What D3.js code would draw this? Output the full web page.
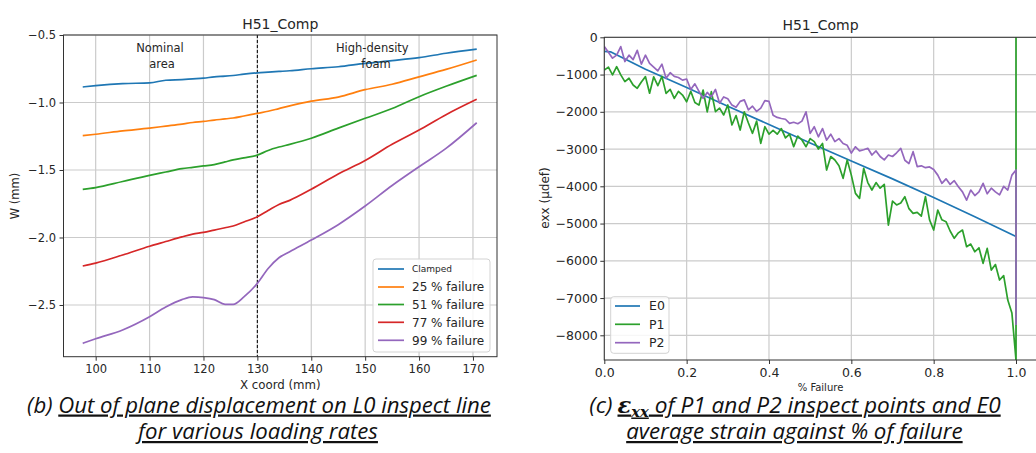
<!DOCTYPE html>
<html><head><meta charset="utf-8">
<script src="https://cdn.jsdelivr.net/npm/d3@7"></script>
<style>
body{margin:0;background:#fff;}
svg{display:block;}
.tick text{fill:#262626;}
</style></head><body>
<svg id="chart" width="1036" height="453"></svg>
<script>
// ---------- Left chart data (out-of-plane displacement) ----------
const xCoord = [97.6, 100, 105, 110, 113, 116, 118, 120, 122, 124, 125.5, 127.5, 130, 132, 134, 136, 140, 145, 150, 155, 160, 165, 170.7];
const clamped = [-0.885, -0.875, -0.86, -0.855, -0.835, -0.83, -0.825, -0.82, -0.81, -0.805, -0.80, -0.79, -0.78, -0.775, -0.77, -0.765, -0.75, -0.735, -0.71, -0.69, -0.668, -0.635, -0.605];
const fail25 = [-1.245, -1.235, -1.21, -1.19, -1.175, -1.16, -1.148, -1.14, -1.13, -1.122, -1.115, -1.10, -1.08, -1.065, -1.045, -1.025, -0.99, -0.96, -0.905, -0.865, -0.81, -0.755, -0.685];
const fail51 = [-1.643, -1.63, -1.585, -1.54, -1.515, -1.49, -1.48, -1.47, -1.46, -1.44, -1.425, -1.41, -1.39, -1.355, -1.33, -1.31, -1.265, -1.19, -1.117, -1.045, -0.957, -0.88, -0.799];
const fail77 = [-2.211, -2.19, -2.13, -2.065, -2.03, -1.995, -1.975, -1.962, -1.945, -1.928, -1.915, -1.885, -1.846, -1.80, -1.755, -1.725, -1.643, -1.53, -1.43, -1.31, -1.204, -1.09, -0.976];
const fail99 = [-2.784, -2.75, -2.685, -2.587, -2.515, -2.46, -2.44, -2.445, -2.46, -2.495, -2.495, -2.44, -2.34, -2.23, -2.15, -2.105, -2.019, -1.905, -1.767, -1.615, -1.476, -1.34, -1.15];
const leftNames = ["Clamped", "25 % failure", "51 % failure", "77 % failure", "99 % failure"];
const leftXTicks = [100, 110, 120, 130, 140, 150, 160, 170];
const leftYTicks = [-0.5, -1.0, -1.5, -2.0, -2.5];
const dividerX = 130;

// ---------- Right chart data (strain vs % failure) ----------
const e0Pct  = [0, 0.015, 0.1, 0.2, 0.3, 0.4, 0.5, 0.6, 0.7, 0.8, 0.9, 1.0];
const e0Vals = [-380, -390, -860, -1350, -1850, -2340, -2840, -3320, -3800, -4300, -4820, -5350];
const p1Vals = [-880,-800,-1010,-790,-1010,-1190,-1100,-1280,-1370,-1200,
  -1056,-1500,-1060,-1300,-1050,-1505,-1400,-1640,-1450,-1550,
  -1730,-1450,-1750,-1820,-1415,-2000,-1460,-1997,-1900,-2085,
  -1817,-2354,-2100,-2489,-2000,-2300,-2578,-2250,-2846,-2400,
  -2600,-2500,-2600,-2450,-2700,-2600,-2935,-2650,-2757,-2937,
  -2720,-2800,-3000,-2850,-3563,-3200,-3294,-3450,-3786,-3294,
  -3700,-4190,-4323,-3517,-3900,-4100,-3900,-4050,-3950,-5040,
  -4400,-4500,-4450,-4279,-4600,-4726,-4700,-4800,-4279,-4900,
  -5174,-4637,-4900,-4950,-5200,-5397,-5250,-5174,-5622,-5550,
  -5757,-5650,-6068,-5666,-6248,-6100,-6516,-6400,-7054,-7400,-8665];
const p1TailPct = [1.0, 1.0];
const p1TailVals = [-9500, 300];
const p2Vals = [-250,-400,-560,-480,-250,-650,-480,-600,-350,-720,
  -480,-700,-800,-900,-720,-1100,-950,-1050,-1080,-1150,
  -1120,-1400,-1250,-1450,-1640,-1480,-1600,-1400,-1770,-1600,
  -1650,-1820,-1880,-1720,-1680,-1950,-1850,-1990,-1900,-1700,
  -1720,-2090,-2150,-2180,-2200,-2310,-2280,-2320,-2250,-2000,
  -2580,-2400,-2670,-2450,-2760,-2600,-2800,-2720,-2850,-2900,
  -3110,-2940,-3050,-3020,-2980,-3160,-3050,-3200,-3290,-3160,
  -3200,-3100,-2980,-3300,-3390,-3070,-3470,-3450,-3500,-3480,
  -3550,-3700,-3920,-3800,-3950,-3850,-4010,-4150,-4370,-4100,
  -4250,-4150,-3920,-4200,-4050,-4150,-4230,-4000,-4100,-3700,-3560];
const p2TailPct = [1.0];
const p2TailVals = [-7725];
const rightNames = ["E0", "P1", "P2"];
const rightXTicks = [0, 0.2, 0.4, 0.6, 0.8, 1.0];
const rightYTicks = [0, -1000, -2000, -3000, -4000, -5000, -6000, -7000, -8000];

const C = {blue:"#1f77b4", orange:"#ff7f0e", green:"#2ca02c", red:"#d62728", purple:"#9467bd"};
const FONT = "'DejaVu Sans', sans-serif";
const svg = d3.select("#chart");
svg.append("rect").attr("width",1036).attr("height",453).attr("fill","#fff");

function styleAxis(g, fs){
  g.select(".domain").remove();
  g.selectAll(".tick line").attr("stroke","#333").attr("stroke-width",1);
  g.selectAll(".tick text").attr("font-family",FONT).attr("font-size",fs).attr("fill","#262626");
}

// ================= LEFT CHART =================
const L = {left:63.5, right:497, top:35, bottom:356.7};
const xL = d3.scaleLinear().domain([94.03, 174.46]).range([L.left, L.right]);
const yL = d3.scaleLinear().domain([-2.883, -0.5]).range([L.bottom, L.top]);
const gL = svg.append("g");
gL.append("clipPath").attr("id","clipL").append("rect")
  .attr("x",L.left).attr("y",L.top).attr("width",L.right-L.left).attr("height",L.bottom-L.top);
const gridL = gL.append("g").attr("stroke","#cbcbcb").attr("stroke-width",1.2);
leftXTicks.forEach(t=>gridL.append("line").attr("x1",xL(t)).attr("x2",xL(t)).attr("y1",L.top).attr("y2",L.bottom));
leftYTicks.forEach(t=>gridL.append("line").attr("x1",L.left).attr("x2",L.right).attr("y1",yL(t)).attr("y2",yL(t)));

gL.append("line").attr("x1",xL(dividerX)).attr("x2",xL(dividerX)).attr("y1",L.top).attr("y2",L.bottom)
  .attr("stroke","#111").attr("stroke-width",1.1).attr("stroke-dasharray","3,2");

const leftSeries = [clamped, fail25, fail51, fail77, fail99];
const leftColors = [C.blue, C.orange, C.green, C.red, C.purple];
const lineL = d3.line().x(d=>xL(d[0])).y(d=>yL(d[1])).curve(d3.curveMonotoneX);
const plotL = gL.append("g").attr("clip-path","url(#clipL)");
leftSeries.forEach((s,i)=>{
  plotL.append("path").attr("d", lineL(xCoord.map((x,j)=>[x,s[j]])))
    .attr("fill","none").attr("stroke",leftColors[i]).attr("stroke-width",1.7);
});

// annotations
const ann = gL.append("g").attr("font-family",FONT).attr("font-size",11.5).attr("fill","#262626").attr("text-anchor","middle");
ann.append("text").attr("x",160).attr("y",51.7).text("Nominal");
ann.append("text").attr("x",162).attr("y",68).text("area");
ann.append("text").attr("x",372.3).attr("y",51.5).text("High-density");
ann.append("text").attr("x",376).attr("y",68).text("foam");

const axLB = gL.append("g").attr("transform",`translate(0,${L.bottom})`)
  .call(d3.axisBottom(xL).tickValues(leftXTicks).tickSize(4).tickPadding(4).tickFormat(d3.format("d")));
styleAxis(axLB, 11.5);
const axLL = gL.append("g").attr("transform",`translate(${L.left},0)`)
  .call(d3.axisLeft(yL).tickValues(leftYTicks).tickSize(4).tickPadding(3.5).tickFormat(d3.format(".1f")));
styleAxis(axLL, 11.5);
gL.append("rect").attr("x",L.left).attr("y",L.top).attr("width",L.right-L.left).attr("height",L.bottom-L.top)
  .attr("fill","none").attr("stroke","#333").attr("stroke-width",1);

gL.append("text").attr("x",280.3).attr("y",28.5).attr("text-anchor","middle").attr("font-family",FONT)
  .attr("font-size",14).attr("fill","#262626").text("H51_Comp");
gL.append("text").attr("x",280.3).attr("y",385.3).attr("dy","0.35em").attr("text-anchor","middle").attr("font-family",FONT)
  .attr("font-size",11.8).attr("fill","#262626").text("X coord (mm)");
gL.append("text").attr("transform","translate(15,196) rotate(-90)").attr("dy","0.35em").attr("text-anchor","middle")
  .attr("font-family",FONT).attr("font-size",11.5).attr("fill","#262626").text("W (mm)");

// legend left
const legL = gL.append("g");
legL.append("rect").attr("x",373).attr("y",259).attr("width",117).attr("height",93).attr("rx",3)
  .attr("fill","#fff").attr("fill-opacity",0.85).attr("stroke","#d3d3d3").attr("stroke-width",1);
const legLY = [269, 287, 304.5, 322.3, 340.3];
leftNames.forEach((n,i)=>{
  legL.append("line").attr("x1",378).attr("x2",404).attr("y1",legLY[i]).attr("y2",legLY[i])
    .attr("stroke",leftColors[i]).attr("stroke-width",1.7);
  legL.append("text").attr("x",412).attr("y",legLY[i]).attr("dy","0.35em").attr("font-family",FONT)
    .attr("font-size", i===0 ? 9 : 12).attr("fill","#262626").text(n);
});

// ================= RIGHT CHART =================
const R = {left:604.3, right:1036.6, top:37.3, bottom:360};
const xR = d3.scaleLinear().domain([0, 1.05]).range([R.left, R.right]);
const yR = d3.scaleLinear().domain([-8663, 0]).range([R.bottom, R.top]);
const gR = svg.append("g");
gR.append("clipPath").attr("id","clipR").append("rect")
  .attr("x",R.left).attr("y",R.top).attr("width",R.right-R.left).attr("height",R.bottom-R.top);
const gridR = gR.append("g").attr("stroke","#cbcbcb").attr("stroke-width",1.2);
rightXTicks.forEach(t=>gridR.append("line").attr("x1",xR(t)).attr("x2",xR(t)).attr("y1",R.top).attr("y2",R.bottom));
rightYTicks.forEach(t=>gridR.append("line").attr("x1",R.left).attr("x2",R.right).attr("y1",yR(t)).attr("y2",yR(t)));

const pct = d3.range(p1Vals.length).map(i=>i/100);
const lineR = d3.line().x(d=>xR(d[0])).y(d=>yR(d[1]));
const plotR = gR.append("g").attr("clip-path","url(#clipR)");
const e0Data = e0Pct.map((p,i)=>[p,e0Vals[i]]);
const p1Data = pct.map((p,i)=>[p,p1Vals[i]]).concat(p1TailPct.map((p,i)=>[p,p1TailVals[i]]));
const p2Data = pct.map((p,i)=>[p,p2Vals[i]]).concat(p2TailPct.map((p,i)=>[p,p2TailVals[i]]));
const rightColors = [C.blue, C.green, C.purple];
[e0Data, p1Data, p2Data].forEach((d,i)=>{
  plotR.append("path").attr("d",lineR(d)).attr("fill","none").attr("stroke",rightColors[i])
    .attr("stroke-width",1.7).attr("stroke-linejoin","round");
});

const axRB = gR.append("g").attr("transform",`translate(0,${R.bottom})`)
  .call(d3.axisBottom(xR).tickValues(rightXTicks).tickSize(4).tickPadding(4).tickFormat(d3.format(".1f")));
styleAxis(axRB, 12.5);
const axRL = gR.append("g").attr("transform",`translate(${R.left},0)`)
  .call(d3.axisLeft(yR).tickValues(rightYTicks).tickSize(4).tickPadding(2.5).tickFormat(d3.format("d")));
styleAxis(axRL, 12.5);
gR.append("rect").attr("x",R.left).attr("y",R.top).attr("width",R.right-R.left).attr("height",R.bottom-R.top)
  .attr("fill","none").attr("stroke","#333").attr("stroke-width",1);

gR.append("text").attr("x",820.5).attr("y",30).attr("text-anchor","middle").attr("font-family",FONT)
  .attr("font-size",14).attr("fill","#262626").text("H51_Comp");
gR.append("text").attr("x",820.5).attr("y",387.5).attr("dy","0.35em").attr("text-anchor","middle").attr("font-family",FONT)
  .attr("font-size",10).attr("fill","#262626").text("% Failure");
gR.append("text").attr("transform","translate(545,198) rotate(-90)").attr("dy","0.35em").attr("text-anchor","middle")
  .attr("font-family",FONT).attr("font-size",12).attr("fill","#262626").text("exx (µdef)");

const legR = gR.append("g");
legR.append("rect").attr("x",610.7).attr("y",296.7).attr("width",58.3).attr("height",56.6).attr("rx",3)
  .attr("fill","#fff").attr("fill-opacity",0.85).attr("stroke","#d3d3d3").attr("stroke-width",1);
const legRY = [306, 324.3, 342.7];
rightNames.forEach((n,i)=>{
  legR.append("line").attr("x1",615).attr("x2",640).attr("y1",legRY[i]).attr("y2",legRY[i])
    .attr("stroke",rightColors[i]).attr("stroke-width",1.7);
  legR.append("text").attr("x",649).attr("y",legRY[i]).attr("dy","0.35em").attr("font-family",FONT)
    .attr("font-size",12.5).attr("fill","#262626").text(n);
});

// ================= CAPTIONS =================
const CAPFONT = "'Open Sans', Lato, sans-serif";
function fit(t, target){
  const len = t.node().getComputedTextLength();
  const fs = +t.attr("font-size");
  t.attr("font-size", fs*target/len);
}
function caption(x, y){
  return svg.append("text").attr("x",x).attr("y",y).attr("text-anchor","middle")
    .attr("font-family",CAPFONT).attr("font-style","italic").attr("font-size",19).attr("fill","#111");
}
const capB1 = caption(259, 412.5);
capB1.append("tspan").text("(b) ");
capB1.append("tspan").style("text-decoration","underline").text("Out of plane displacement on L0 inspect line");
fit(capB1, 464);
const capB2 = caption(258, 439);
capB2.append("tspan").style("text-decoration","underline").text("for various loading rates");
fit(capB2, 240);

const capC1 = caption(795, 412.5);
capC1.append("tspan").text("(c)");
capC1.append("tspan").style("text-decoration","underline").attr("dx",5).attr("font-family","'DejaVu Serif', serif").attr("font-weight","bold").text("ε");
capC1.append("tspan").style("text-decoration","underline").attr("font-family","'DejaVu Serif', serif").attr("font-weight","bold")
  .attr("font-size","65%").attr("dy",4).text("xx");
capC1.append("tspan").style("text-decoration","underline").attr("dy",-4).text(" of P1 and P2 inspect points and E0");
fit(capC1, 406.6);
const capC2 = caption(794.4, 439);
capC2.append("tspan").style("text-decoration","underline").text("average strain against % of failure");
fit(capC2, 336.7);
</script>
</body></html>
